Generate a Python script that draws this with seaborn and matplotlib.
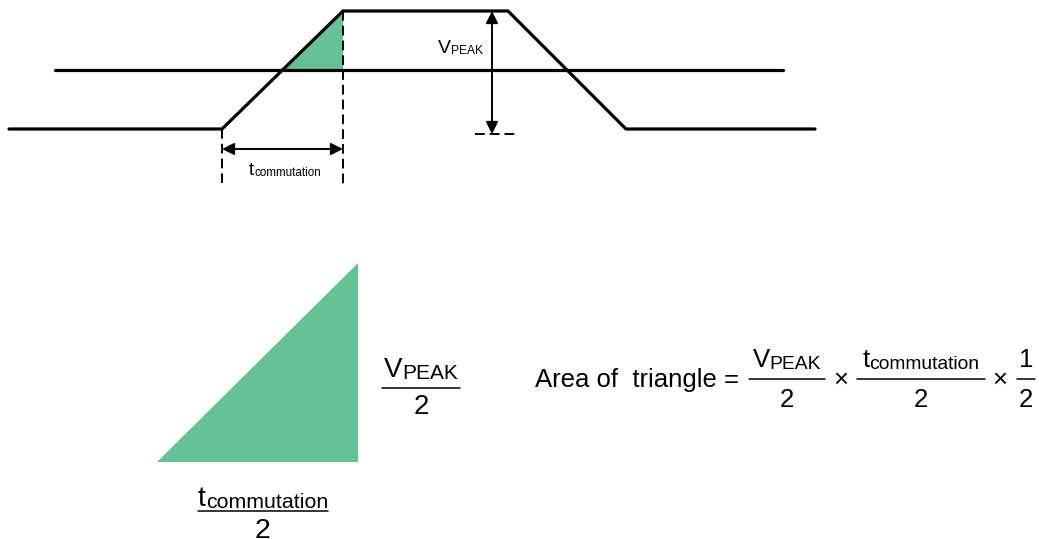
import numpy as np
import matplotlib
matplotlib.use('Agg')
import matplotlib.pyplot as plt
import seaborn as sns

# waveform corners (pixel-like units, y grows downward)
wave_x = [9, 222, 343, 508, 626, 815]
wave_y = [129, 129, 11, 11, 129, 129]
mid_x = [55, 783]
mid_level = 70
dash_bottom = 185
arrow_t_y = 149
arrow_v_x = 492
v_ground = 134
# big triangle: base left, base right, apex
big_tri_x = [157, 358, 358]
big_tri_y = [462, 462, 263]

green = '#66C295'

sns.set_theme(style='white')
plt.rcParams['font.family'] = ['Liberation Sans', 'DejaVu Sans']
plt.rcParams['text.color'] = 'black'

fig = plt.figure(figsize=(10.39, 5.39), dpi=100)
ax = fig.add_axes([0, 0, 1, 1])
ax.set_xlim(0, 1039)
ax.set_ylim(539, 0)
ax.axis('off')
renderer = fig.canvas.get_renderer()

sns.lineplot(x=wave_x, y=wave_y, sort=False, estimator=None, color='black',
             lw=2.3, ax=ax)
sns.lineplot(x=mid_x, y=[mid_level, mid_level], color='black', lw=2.3, ax=ax)

# shaded part of the rising edge above the mid line
slope = (wave_x[2] - wave_x[1]) / (wave_y[1] - wave_y[2])
x_cross = wave_x[1] + (wave_y[1] - mid_level) * slope
ax.fill([x_cross, wave_x[2], wave_x[2]], [mid_level, wave_y[2], mid_level],
        color=green, lw=0, zorder=1)

dash = dict(color='black', lw=1.4, dashes=(5, 2.6))
ax.plot([wave_x[1], wave_x[1]], [wave_y[1], dash_bottom], **dash)
ax.plot([wave_x[2], wave_x[2]], [wave_y[2], dash_bottom], **dash)
ax.plot([arrow_v_x - 17, arrow_v_x + 23], [v_ground, v_ground], **dash)

arr = dict(arrowstyle='<|-|>', color='black', lw=1.4, mutation_scale=18,
           shrinkA=0, shrinkB=0)
ax.annotate('', xy=(wave_x[1], arrow_t_y), xytext=(wave_x[2], arrow_t_y),
            arrowprops=arr)
ax.annotate('', xy=(arrow_v_x, wave_y[2]), xytext=(arrow_v_x, v_ground),
            arrowprops=arr)


def sub_label(xc, y, main, sub, size, ratio=0.75):
    # main letter plus a subscript sitting just under the baseline
    t1 = ax.text(0, y, main, fontsize=size, va='baseline')
    t2 = ax.text(0, y + size * 0.1, sub, fontsize=size * ratio, va='baseline')
    w1 = t1.get_window_extent(renderer).width
    w2 = t2.get_window_extent(renderer).width
    left = xc - (w1 + w2) / 2
    t1.set_x(left)
    t2.set_x(left + w1)


def fraction(xc, bar_y, num, den, half_w, size, num_gap, den_gap):
    if isinstance(num, tuple):
        sub_label(xc, bar_y - num_gap, num[0], num[1], size)
    else:
        ax.text(xc, bar_y - num_gap, num, fontsize=size, ha='center',
                va='baseline')
    ax.text(xc, bar_y + den_gap, den, fontsize=size, ha='center', va='baseline')
    ax.plot([xc - half_w, xc + half_w], [bar_y, bar_y], color='black', lw=1.1)


vpeak = ('V', 'PEAK')
tcomm = ('t', 'commutation')

sub_label(460, 53, 'V', 'PEAK', 14, ratio=0.62)
sub_label(285, 175, 't', 'commutation', 13.5, ratio=0.62)

ax.fill(big_tri_x, big_tri_y, color=green, lw=0)

fraction(421, 388, vpeak, '2', 39, 20, 11, 26)
fraction(263, 511, tcomm, '2', 65, 20.5, 5, 27)

fy = 379
ax.text(535, 387, 'Area of  triangle', fontsize=18.5, ha='left', va='baseline')
ax.text(731, 387, '=', fontsize=18.5, ha='center', va='baseline')
fraction(787, fy, vpeak, '2', 38, 18.5, 12, 28)
ax.text(841, 387, '\u00d7', fontsize=18.5, ha='center', va='baseline')
fraction(921, fy, tcomm, '2', 64, 18.5, 12, 28)
ax.text(1000, 387, '\u00d7', fontsize=18.5, ha='center', va='baseline')
fraction(1026, fy, '1', '2', 9, 18.5, 12, 28)

fig.savefig('out.png', dpi=100)
